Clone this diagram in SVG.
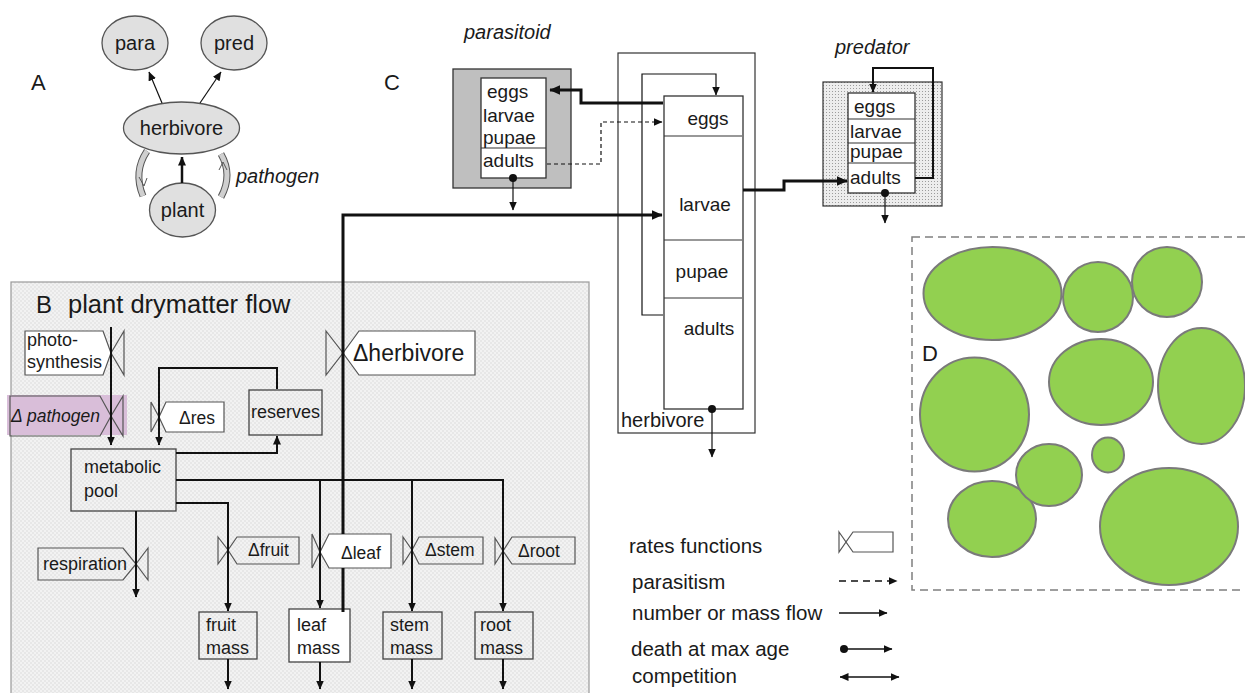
<svg xmlns="http://www.w3.org/2000/svg" width="1245" height="693" viewBox="0 0 1245 693">
  <defs>
    <style>
      .t { font-family: "Liberation Sans", Arial, sans-serif; fill: #1a1a1a; }
      .i { font-style: italic; }
      .box { fill: none; stroke: #444; stroke-width: 1.3; }
      .wbox { fill: #fff; stroke: #444; stroke-width: 1.3; }
      .rate { fill: none; stroke: #555; stroke-width: 1.2; }
      .wrate { fill: #fff; stroke: #555; stroke-width: 1.2; }
      .ell { fill: #e0e0e0; stroke: #555; stroke-width: 1.3; }
      .flow { fill: none; stroke: #111; stroke-width: 2; marker-end: url(#arr); }
      .thin { fill: none; stroke: #111; stroke-width: 1.2; marker-end: url(#arr); }
      .thick { fill: none; stroke: #111; stroke-width: 3; }
      .dash { fill: none; stroke: #111; stroke-width: 1.2; stroke-dasharray: 4 3; marker-end: url(#arr); }
      .dash-key { fill: none; stroke: #111; stroke-width: 1.5; stroke-dasharray: 7 5; marker-end: url(#arr); }
      .canopy { fill: #92d050; stroke: #7a7a7a; stroke-width: 2; }
    </style>
    <marker id="arr" viewBox="0 0 9 8" refX="8.5" refY="4" markerWidth="9" markerHeight="8" markerUnits="userSpaceOnUse" orient="auto">
      <path d="M0,0 L9,4 L0,8 z" fill="#111"/>
    </marker>
    <marker id="arrS" viewBox="0 0 9 8" refX="8.5" refY="4" markerWidth="9" markerHeight="8" markerUnits="userSpaceOnUse" orient="auto-start-reverse">
      <path d="M0,0 L9,4 L0,8 z" fill="#111"/>
    </marker>
    <marker id="arrBig" viewBox="0 0 9 8" refX="8.5" refY="4" markerWidth="11" markerHeight="10" markerUnits="userSpaceOnUse" orient="auto">
      <path d="M0,0 L9,4 L0,8 z" fill="#111"/>
    </marker>
    <pattern id="grain" width="4" height="4" patternUnits="userSpaceOnUse">
      <rect width="4" height="4" fill="#f2f2f2"/>
      <rect width="2" height="2" fill="#e7e7e7"/>
      <rect x="2" y="2" width="2" height="2" fill="#e7e7e7"/>
    </pattern>
    <pattern id="stipple" width="3" height="3" patternUnits="userSpaceOnUse">
      <rect width="3" height="3" fill="#ededed"/>
      <rect x="1" y="1" width="1" height="1" fill="#9c9c9c"/>
    </pattern>
  </defs>

  <rect width="1245" height="693" fill="#fff"/>

  <!-- Panel A: food web overview -->
  <g id="panelA">
    <text class="t" x="31" y="90" font-size="22">A</text>
    <g id="a-para"><ellipse class="ell" cx="135" cy="43" rx="33" ry="27"/><text class="t" x="135" y="50" font-size="20" text-anchor="middle">para</text></g>
    <g id="a-pred"><ellipse class="ell" cx="234" cy="43" rx="33" ry="27"/><text class="t" x="234" y="50" font-size="20" text-anchor="middle">pred</text></g>
    <g id="a-herbivore"><ellipse class="ell" cx="181.5" cy="128" rx="58" ry="26"/><text class="t" x="181.5" y="135" font-size="20" text-anchor="middle">herbivore</text></g>
    <g id="a-plant"><ellipse class="ell" cx="182.5" cy="210" rx="33" ry="27"/><text class="t" x="182.5" y="217" font-size="20" text-anchor="middle">plant</text></g>
    <g id="a-pathogen">
      <path d="M147,151 Q133,172 143,196" fill="none" stroke="#555" stroke-width="7"/>
      <path d="M147,151 Q133,172 143,196" fill="none" stroke="#cfcfcf" stroke-width="5"/>
      <path d="M139,177 L144,186 L147,178" fill="none" stroke="#555" stroke-width="1"/>
      <path d="M221,154 Q233,175 221,197" fill="none" stroke="#555" stroke-width="7"/>
      <path d="M221,154 Q233,175 221,197" fill="none" stroke="#cfcfcf" stroke-width="5"/>
      <path d="M219,170 L223,162 L227,170" fill="none" stroke="#555" stroke-width="1"/>
      <text class="t i" x="236" y="183" font-size="20">pathogen</text>
    </g>
  </g>

  <!-- Panel B: plant dry matter flow -->
  <g id="panelB-frame">
    <rect x="11" y="282" width="578" height="430" fill="url(#grain)" stroke="#9a9a9a" stroke-width="1.2"/>
    <text class="t" x="36" y="313" font-size="24">B</text>
    <text class="t" x="68" y="313" font-size="25.5">plant drymatter flow</text>
  </g>

  <g id="photosynthesis">
    <polygon class="wrate" points="25,331 103,331 111,353 103,375 25,375"/>
    <polygon class="rate" points="124,331 111,353 124,375"/>
    <text class="t" x="27" y="346" font-size="18">photo-</text>
    <text class="t" x="27" y="368" font-size="18">synthesis</text>
  </g>
  <g id="d-pathogen">
    <rect x="7" y="395" width="120" height="40" fill="#d9bed9"/>
    <polygon class="rate" points="10,396 100,396 111,416 100,436 10,436"/>
    <polygon class="rate" points="123,396 111,416 123,436"/>
    <text class="t i" x="11" y="422" font-size="17.5">Δ pathogen</text>
  </g>
  <g id="d-res">
    <polygon class="rate" points="151,402 159,417 151,432"/>
    <polygon class="wrate" points="166,402 224,402 224,432 166,432 159,417"/>
    <text class="t" x="197" y="424" font-size="17.5" text-anchor="middle">Δres</text>
  </g>
  <g id="reserves">
    <rect class="box" x="249" y="390" width="73" height="45"/>
    <text class="t" x="285.5" y="418" font-size="18" text-anchor="middle">reserves</text>
  </g>
  <g id="d-herbivore">
    <polygon class="rate" points="326,331 343,353 326,375"/>
    <polygon class="wrate" points="359,331 475,331 475,375 359,375 343,353"/>
    <text class="t" x="353" y="361" font-size="23">Δherbivore</text>
  </g>
  <g id="metabolic-pool">
    <rect class="box" x="71" y="449" width="105" height="62"/>
    <text class="t" x="84" y="473" font-size="18">metabolic</text>
    <text class="t" x="84" y="497" font-size="18">pool</text>
  </g>
  <g id="respiration">
    <polygon class="rate" points="38,548 123,548 136,564 123,580 38,580"/>
    <polygon class="rate" points="148,548 136,564 148,580"/>
    <text class="t" x="43" y="570" font-size="18">respiration</text>
  </g>
  <g id="d-fruit">
    <polygon class="rate" points="218,537 228,550 218,564"/>
    <polygon class="rate" points="237,537 299,537 299,564 237,564 228,550"/>
    <text class="t" x="248" y="556" font-size="17.5">Δfruit</text>
  </g>
  <g id="d-leaf">
    <polygon class="rate" points="312,534 320,552 312,568"/>
    <polygon class="wrate" points="329,534 391,534 391,568 329,568 320,552"/>
    <text class="t" x="341" y="559" font-size="17.5">Δleaf</text>
  </g>
  <g id="d-stem">
    <polygon class="rate" points="403,537 412,550 403,564"/>
    <polygon class="rate" points="419,537 483,537 483,564 419,564 412,550"/>
    <text class="t" x="425" y="556" font-size="17.5">Δstem</text>
  </g>
  <g id="d-root">
    <polygon class="rate" points="495,538 503,551 495,564"/>
    <polygon class="rate" points="512,537 575,537 575,564 512,564 503,551"/>
    <text class="t" x="518" y="557" font-size="17.5">Δroot</text>
  </g>
  <g id="fruit-mass">
    <rect class="box" x="199" y="612" width="58" height="47"/>
    <text class="t" x="206" y="631" font-size="18">fruit</text>
    <text class="t" x="206" y="654" font-size="18">mass</text>
  </g>
  <g id="leaf-mass">
    <rect class="wbox" x="289" y="609" width="61" height="53"/>
    <text class="t" x="297" y="631" font-size="18">leaf</text>
    <text class="t" x="297" y="654" font-size="18">mass</text>
  </g>
  <g id="stem-mass">
    <rect class="box" x="383" y="612" width="59" height="47"/>
    <text class="t" x="390" y="631" font-size="18">stem</text>
    <text class="t" x="390" y="654" font-size="18">mass</text>
  </g>
  <g id="root-mass">
    <rect class="box" x="475" y="612" width="58" height="47"/>
    <text class="t" x="480" y="631" font-size="18">root</text>
    <text class="t" x="480" y="654" font-size="18">mass</text>
  </g>

  <!-- Panel C: insect stage structure -->
  <g id="panelC-label"><text class="t" x="384" y="90" font-size="22">C</text></g>

  <g id="parasitoid">
    <text class="t i" x="464" y="39" font-size="20">parasitoid</text>
    <rect x="453" y="69" width="118" height="119" fill="#bfbfbf" stroke="#333" stroke-width="1.3"/>
    <rect x="481" y="78" width="65" height="100" fill="#fff" stroke="#333" stroke-width="1.3"/>
    <line x1="481" y1="148" x2="546" y2="148" stroke="#333" stroke-width="1.2"/>
    <text class="t" x="487" y="98" font-size="19">eggs</text>
    <text class="t" x="483" y="122" font-size="19">larvae</text>
    <text class="t" x="483" y="144" font-size="19">pupae</text>
    <text class="t" x="483" y="167" font-size="19">adults</text>
  </g>

  <g id="herbivore">
    <rect x="618" y="53" width="137" height="380" fill="#fff" stroke="#333" stroke-width="1.2"/>
    <rect x="664" y="96" width="79" height="313" fill="#fff" stroke="#333" stroke-width="1.3"/>
    <line x1="664" y1="136" x2="742" y2="136" stroke="#333" stroke-width="1.2"/>
    <line x1="664" y1="240" x2="742" y2="240" stroke="#333" stroke-width="1.2"/>
    <line x1="664" y1="298" x2="742" y2="298" stroke="#333" stroke-width="1.2"/>
    <text class="t" x="708" y="125" font-size="19" text-anchor="middle">eggs</text>
    <text class="t" x="705" y="211" font-size="19" text-anchor="middle">larvae</text>
    <text class="t" x="702" y="278" font-size="19" text-anchor="middle">pupae</text>
    <text class="t" x="709" y="335" font-size="19" text-anchor="middle">adults</text>
    <text class="t" x="621" y="427" font-size="20">herbivore</text>
  </g>

  <g id="predator">
    <text class="t i" x="835" y="54" font-size="20">predator</text>
    <rect x="823" y="82" width="119" height="124" fill="url(#stipple)" stroke="#333" stroke-width="1.2"/>
    <rect x="848" y="93" width="67" height="100" fill="#fff" stroke="#333" stroke-width="1.3"/>
    <line x1="848" y1="119" x2="915" y2="119" stroke="#333" stroke-width="1.2"/>
    <line x1="848" y1="143" x2="915" y2="143" stroke="#333" stroke-width="1.2"/>
    <line x1="848" y1="163" x2="915" y2="163" stroke="#333" stroke-width="1.2"/>
    <text class="t" x="854" y="113" font-size="19">eggs</text>
    <text class="t" x="850" y="138" font-size="19">larvae</text>
    <text class="t" x="850" y="158" font-size="19">pupae</text>
    <text class="t" x="850" y="184" font-size="19">adults</text>
  </g>

  <!-- Panel D: canopy cover -->
  <g id="panelD">
    <rect x="912" y="237" width="345" height="353" fill="none" stroke="#7f7f7f" stroke-width="1.5" stroke-dasharray="8 5"/>
    <text class="t" x="922" y="361" font-size="22">D</text>
    <ellipse class="canopy" cx="992.5" cy="293.5" rx="69" ry="46.5"/>
    <ellipse class="canopy" cx="1098" cy="297" rx="35" ry="35"/>
    <ellipse class="canopy" cx="1167" cy="282" rx="35" ry="35"/>
    <ellipse class="canopy" cx="1101" cy="382" rx="52" ry="43"/>
    <ellipse class="canopy" cx="1201.5" cy="386" rx="43.5" ry="58"/>
    <ellipse class="canopy" cx="974.5" cy="414.5" rx="54.5" ry="57"/>
    <ellipse class="canopy" cx="992" cy="519" rx="44" ry="38"/>
    <ellipse class="canopy" cx="1049" cy="475" rx="33" ry="31"/>
    <ellipse class="canopy" cx="1108" cy="455" rx="16" ry="17.5"/>
    <ellipse class="canopy" cx="1169" cy="526.5" rx="69" ry="58.5"/>
  </g>

  <!-- Legend -->
  <g id="legend">
    <text class="t" x="629" y="553" font-size="20.5">rates functions</text>
    <polygon class="rate" points="839,532 846,542 839,552"/>
    <polygon class="rate" points="853,532 893,532 893,552 853,552 846,542"/>
    <text class="t" x="632" y="589" font-size="20.5">parasitism</text>
    <text class="t" x="632" y="620" font-size="20.5">number or mass flow</text>
    <text class="t" x="631" y="656" font-size="20.5">death at max age</text>
    <text class="t" x="632" y="683" font-size="20.5">competition</text>
  </g>

  <!-- Connectors -->
  <g id="connectors">
    <!-- panel A -->
    <path class="thin" d="M162,103 L149,72"/>
    <path class="thin" d="M200,103 L221,72"/>
    <path d="M182,183 L182,157" fill="none" stroke="#111" stroke-width="2.5" marker-end="url(#arr)"/>

    <!-- panel B flows -->
    <path class="flow" d="M111,327 V445"/>
    <path class="flow" d="M277,389 V368 H159 V445"/>
    <path class="flow" d="M176,453 H277 V436"/>
    <path class="flow" d="M176,480 H503 V611"/>
    <path class="flow" d="M320,480 V608"/>
    <path class="flow" d="M412,480 V611"/>
    <path class="flow" d="M176,503 H228 V611"/>
    <path class="flow" d="M136,511 V597"/>
    <path class="flow" d="M228,659 V689"/>
    <path class="flow" d="M320,662 V689"/>
    <path class="flow" d="M412,659 V689"/>
    <path class="flow" d="M503,659 V689"/>

    <!-- herbivory on leaves feeding the larvae -->
    <path class="thick" d="M343,612 V568"/>
    <path class="thick" d="M343,534 V215 H662" marker-end="url(#arrBig)"/>

    <!-- parasitoid -->
    <path class="thick" d="M663,103 H581 V90 H550" stroke-width="2.5" marker-end="url(#arrBig)"/>
    <path class="dash" d="M547,164 H601 V122 H662"/>
    <circle cx="513" cy="178" r="4" fill="#111"/>
    <path class="thin" d="M513,178 V210"/>

    <!-- herbivore -->
    <path class="thin" d="M663,315 H642 V74 H716 V95"/>
    <circle cx="712" cy="409" r="4" fill="#111"/>
    <path class="thin" d="M712,409 V457"/>

    <!-- predation -->
    <path class="thick" d="M743,190 H784 V181 H847" stroke-width="2.5" marker-end="url(#arrBig)"/>
    <path d="M915,178 H933 V68 H873 V92" fill="none" stroke="#111" stroke-width="2" marker-end="url(#arr)"/>
    <circle cx="885" cy="193" r="4" fill="#111"/>
    <path class="thin" d="M885,193 V223"/>

    <!-- legend samples -->
    <path class="dash-key" d="M839,581 H897"/>
    <path d="M839,613 H887" fill="none" stroke="#111" stroke-width="1.6" marker-end="url(#arr)"/>
    <circle cx="844" cy="649" r="4" fill="#111"/>
    <path d="M844,649 H892" fill="none" stroke="#111" stroke-width="1.6" marker-end="url(#arr)"/>
    <path d="M840,677 H899" fill="none" stroke="#111" stroke-width="1.6" marker-start="url(#arrS)" marker-end="url(#arr)"/>
  </g>
</svg>
